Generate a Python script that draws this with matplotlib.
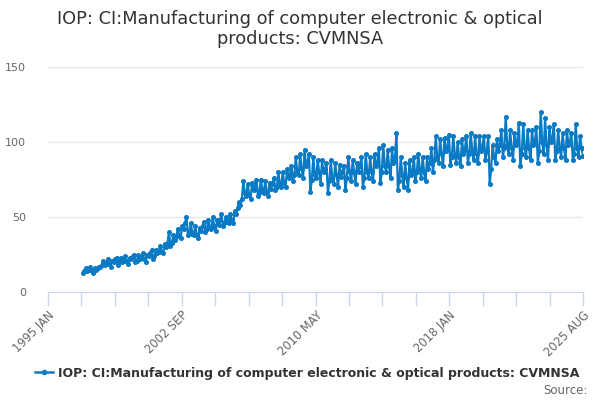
import numpy as np
import matplotlib
matplotlib.use('Agg')
import matplotlib.pyplot as plt
from matplotlib.lines import Line2D

# Serie mensual, 1997 ENE - 2025 AGO
anios = list(range(1997, 2026))
valores = [
    [13, 14, 16, 14, 15, 17, 14, 13, 16, 15, 16, 17],      # 1997
    [17, 18, 21, 18, 19, 22, 19, 17, 21, 20, 22, 23],      # 1998
    [18, 20, 23, 20, 21, 24, 21, 19, 23, 22, 24, 25],      # 1999
    [20, 21, 25, 22, 23, 26, 22, 20, 25, 24, 26, 28],      # 2000
    [22, 24, 28, 26, 27, 31, 27, 26, 32, 30, 33, 40],      # 2001
    [31, 33, 38, 35, 37, 42, 38, 36, 44, 42, 46, 50],      # 2002
    [38, 40, 46, 39, 38, 44, 38, 36, 43, 41, 44, 47],      # 2003
    [40, 42, 48, 43, 42, 50, 44, 41, 48, 45, 48, 52],      # 2004
    [44, 46, 50, 47, 46, 52, 48, 46, 54, 52, 56, 60],      # 2005
    [58, 62, 74, 66, 64, 72, 65, 62, 73, 68, 70, 75],      # 2006
    [64, 66, 75, 68, 66, 74, 67, 64, 73, 69, 72, 76],      # 2007
    [68, 70, 80, 72, 70, 80, 73, 70, 82, 76, 79, 84],      # 2008
    [74, 78, 90, 80, 78, 92, 82, 76, 95, 84, 86, 92],      # 2009
    [67, 75, 90, 78, 76, 88, 80, 72, 88, 80, 82, 86],      # 2010
    [66, 74, 88, 76, 72, 86, 78, 70, 85, 77, 80, 84],      # 2011
    [68, 76, 90, 80, 74, 88, 80, 72, 86, 80, 84, 90],      # 2012
    [70, 76, 92, 80, 76, 90, 80, 74, 92, 84, 86, 96],      # 2013
    [73, 80, 98, 84, 80, 95, 84, 76, 96, 86, 88, 106],     # 2014
    [68, 74, 90, 78, 70, 86, 76, 68, 88, 78, 80, 90],      # 2015
    [74, 80, 92, 82, 76, 90, 80, 74, 90, 82, 86, 96],      # 2016
    [80, 88, 104, 90, 86, 102, 92, 84, 103, 94, 96, 105],  # 2017
    [85, 90, 104, 92, 86, 100, 90, 84, 102, 92, 95, 104],  # 2018
    [86, 92, 106, 94, 88, 104, 92, 86, 104, 94, 96, 104],  # 2019
    [88, 94, 104, 72, 82, 98, 90, 86, 102, 94, 98, 108],   # 2020
    [90, 96, 117, 98, 92, 108, 96, 88, 106, 98, 100, 113], # 2021
    [84, 92, 112, 96, 90, 108, 96, 88, 108, 98, 100, 110], # 2022
    [86, 94, 120, 100, 92, 116, 98, 88, 110, 100, 102, 112],  # 2023
    [88, 94, 108, 96, 90, 106, 96, 88, 108, 98, 100, 106], # 2024
    [88, 92, 112, 96, 90, 104, 96, 91],                    # 2025
]

etiquetas_x = ['1995 JAN', '2002 SEP', '2010 MAY', '2018 JAN', '2025 AUG']
ticks_y = [0, 50, 100, 150]
titulo = 'IOP: CI:Manufacturing of computer electronic & optical\nproducts: CVMNSA'
nombre_serie = 'IOP: CI:Manufacturing of computer electronic & optical products: CVMNSA'

# Meses contados desde 1995 ENE
serie = np.concatenate([np.array(v, dtype=float) for v in valores])
inicio = (anios[0] - 1995) * 12
x = np.arange(inicio, inicio + len(serie))
fin = (2025 - 1995) * 12 + 7

azul = '#0a7ac4'

fig = plt.figure(figsize=(6, 4), dpi=100)
ax = fig.add_axes([48 / 600, 1 - 292 / 400, (583 - 48) / 600, (292 - 67) / 400])

ax.plot(x, serie, color=azul, lw=1.6, marker='o', markersize=2.6, zorder=3)

ax.set_xlim(0, fin)
ax.set_ylim(0, 150)

# Grilla horizontal
ax.set_yticks(ticks_y)
ax.set_yticklabels([str(t) for t in ticks_y], color='#666666', fontsize=8)
ax.yaxis.grid(True, color='#e6e6e6', lw=1)
ax.tick_params(axis='y', length=0, pad=16)

# Eje x: marcas cada 23 meses, etiqueta cada 4
marcas = np.linspace(0, fin, 17)
ax.set_xticks(marcas)
lbl = [''] * 17
for i, e in enumerate(etiquetas_x):
    lbl[i * 4] = e
ax.set_xticklabels(lbl, rotation=45, ha='right', rotation_mode='anchor',
                   color='#666666', fontsize=8.3)
ax.tick_params(axis='x', length=10, color='#ccd6eb', width=1, pad=2)

for s in ['top', 'right', 'left']:
    ax.spines[s].set_visible(False)
ax.spines['bottom'].set_color('#ccd6eb')
ax.set_axisbelow(True)

fig.text(0.5, 1 - 29 / 400, titulo, ha='center', va='center',
         fontsize=12.8, color='#333333', linespacing=1.2)

# Leyenda
simbolo = Line2D([], [], color=azul, lw=1.8, marker='o', markersize=3)
fig.legend([simbolo], [nombre_serie], loc='center', bbox_to_anchor=(0.512, 1 - 373 / 400),
           frameon=False, prop={'weight': 'bold', 'size': 9.0}, handlelength=1.5,
           handletextpad=0.4, labelcolor='#333333')

fig.text(588 / 600, 1 - 390 / 400, 'Source:', ha='right', va='center',
         fontsize=8.5, color='#666666')

fig.savefig('out.png', dpi=100)
